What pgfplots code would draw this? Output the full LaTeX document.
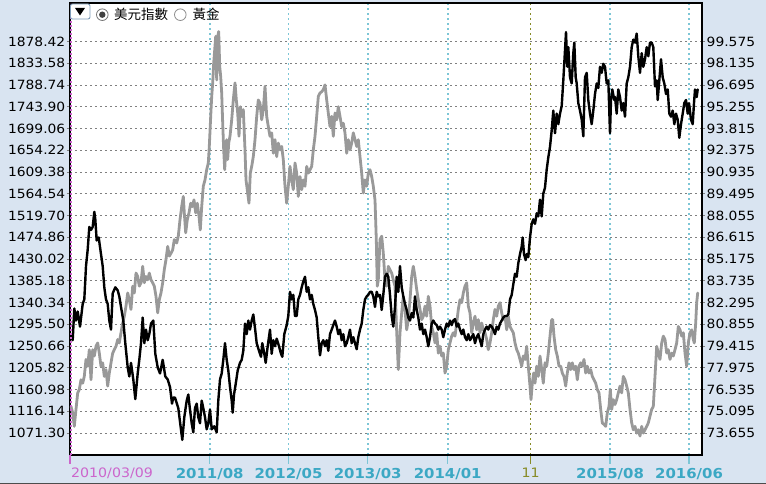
\documentclass[border=0pt]{standalone}
\usepackage{fontspec}
\setmainfont{DejaVu Sans}
\newfontfamily\tickfont[FakeStretch=1.09]{DejaVu Sans}
\newfontfamily\cjk{Noto Sans CJK TC}
\usepackage{pgfplots}
\pgfplotsset{compat=1.18}
\usepackage{pgfplotstable}

\definecolor{bgc}{RGB}{217,228,241}
\definecolor{goldgray}{RGB}{153,153,153}
\definecolor{gridgray}{RGB}{128,128,128}
\definecolor{cyangrid}{RGB}{125,198,214}
\definecolor{cyanlab}{RGB}{60,168,196}
\definecolor{magline}{RGB}{204,102,204}
\definecolor{oliveline}{RGB}{136,140,40}
\definecolor{btnborder}{RGB}{127,157,185}

% gold (left axis), x = position along the time axis
\pgfplotstableread{
x y
1 1126
2.7 1113
4.3 1085
6 1120
7.7 1154
9.3 1161
11 1181
12.7 1174
14.3 1188
16 1223
17.7 1209
19.3 1243
21 1181
22.7 1243
24.3 1230
26 1250
27.7 1257
29.3 1236
31 1209
32.7 1216
34.3 1188
36 1202
37.7 1168
39.3 1195
41 1216
42.7 1236
44.3 1243
46 1250
47.7 1264
49.3 1257
51 1278
52.7 1298
54.3 1312
56 1333
57.7 1360
59.3 1346
61 1326
62.7 1374
64.3 1360
66 1401
67.7 1394
69.3 1374
71 1381
72.7 1415
74.3 1381
76 1394
77.7 1387
79.3 1401
81 1387
82.7 1381
84.3 1374
86 1353
87.7 1319
89.3 1346
91 1360
92.7 1381
94.3 1408
96 1429
97.7 1456
99.3 1436
101 1442
102.7 1449
104.3 1470
106.7 1463
108.3 1477
110 1511
111.7 1538
113.3 1559
114.3 1525
115.7 1484
117.3 1511
119 1525
120.7 1545
122.3 1538
124 1552
125.7 1525
127.3 1545
129 1518
130.3 1490
131.7 1538
133.3 1580
135 1593
136.7 1614
138.3 1628
139.3 1662
140.7 1724
141.7 1765
142.7 1793
143.7 1834
144.7 1861
145.7 1889
146.7 1799
147.7 1889
148.7 1899
149.7 1827
150.7 1806
151.7 1772
152.7 1710
153.7 1655
154.7 1614
155.7 1655
156.7 1676
157.7 1635
158.7 1669
160 1683
161.7 1717
163.3 1758
165 1793
166.3 1758
167.7 1731
169 1683
170.3 1744
171.7 1724
173.3 1738
175 1655
176 1593
177.7 1566
179 1545
180.3 1607
181.7 1621
183.3 1641
185 1676
186.7 1724
188.3 1758
190 1751
191.7 1717
193.3 1738
195 1786
196.7 1724
198.3 1703
200 1683
201.7 1690
203.3 1648
205 1676
206.7 1641
208.3 1669
210 1655
211.7 1662
213.3 1635
215 1580
216.7 1545
218.3 1580
220 1621
221.7 1593
223.3 1573
225 1628
226.7 1607
228.3 1559
230 1600
231.7 1573
233.3 1593
235 1580
236.7 1621
238.3 1607
240 1614
241.7 1621
243.3 1655
245 1683
246.7 1724
248.3 1765
250 1772
251.7 1775
253.3 1779
255 1789
256.7 1758
258.3 1731
260 1703
261.7 1724
263.3 1683
265 1731
266.7 1717
268.3 1744
270 1724
271.7 1703
273.3 1710
275 1690
276.7 1648
278.3 1676
280 1655
281.7 1669
283.3 1690
285 1676
286.7 1662
288.3 1676
290 1641
291.7 1607
293.3 1566
295 1593
296.7 1580
298.3 1607
300 1614
301.7 1600
303.3 1580
305 1552
306.3 1470
307.3 1374
308.3 1387
310 1470
311.7 1477
313.3 1442
315 1387
316.7 1374
318.3 1415
320 1408
321.7 1401
323.3 1387
325 1374
326.7 1280
328.3 1202
330 1278
331.7 1319
333.3 1353
335 1326
336.7 1284
338.3 1305
340 1346
341.7 1394
343.3 1415
345 1394
346.7 1367
348.3 1346
350 1326
351.7 1305
353.3 1312
355 1333
356.7 1312
358.3 1353
360 1333
361.7 1291
363.3 1278
365 1257
366.7 1278
368.3 1236
370 1250
371.7 1230
373.3 1236
375 1195
376.7 1209
378.3 1243
380 1257
381.7 1271
383.3 1278
385 1271
386.7 1298
388.3 1326
390 1346
391.7 1340
393.3 1360
395 1374
396.7 1381
398.3 1333
400 1319
401.7 1278
403.3 1298
405 1312
406.7 1284
408.3 1305
410 1278
411.7 1298
413.3 1284
415 1278
416.7 1264
418.3 1243
420 1257
421.7 1278
423.3 1305
425 1326
426.7 1312
428.3 1333
430 1340
431.7 1319
433.3 1305
435 1312
436.7 1284
438.3 1312
440 1291
441.7 1284
443.3 1278
445 1257
446.7 1243
448.3 1236
450 1223
451.7 1209
453.3 1230
455 1223
456.7 1250
458.3 1209
460 1168
461 1140
462.3 1174
463.7 1195
465 1174
466.7 1209
468.3 1188
470 1230
471.7 1202
473.3 1174
475 1216
476.7 1209
478.3 1236
480 1271
481.7 1305
482.7 1305
484 1271
485.7 1243
487.3 1230
489 1209
490.7 1209
492.3 1195
494 1188
495.7 1168
497.3 1195
499 1216
500.7 1202
502.3 1216
504 1202
505.7 1209
507.3 1181
509 1209
510.7 1216
512.3 1209
514 1223
515.7 1195
517.3 1209
519 1195
520.7 1202
522.3 1188
524 1181
525.7 1174
527.3 1161
529 1154
530.7 1120
532.3 1092
534 1089
535.7 1085
537.3 1113
539 1126
540.3 1161
541.7 1120
543.3 1140
545 1130
546.7 1140
548.3 1154
550 1168
551.7 1154
553.3 1188
555 1181
556.7 1168
558.3 1154
560 1120
561.7 1092
563.3 1078
565 1085
566.7 1071
568.3 1078
570 1065
571.7 1085
573.3 1071
575 1078
576.7 1085
578.3 1092
580 1106
581.7 1120
583.3 1126
585 1188
586.7 1250
588.3 1236
590 1223
591.7 1257
593.3 1271
595 1264
596.7 1236
598.3 1243
600 1223
601.7 1236
603.3 1230
605 1243
606.7 1257
608.3 1291
610 1284
611.7 1271
613.3 1278
615 1236
616.7 1209
618.3 1257
620 1278
621.7 1284
623.3 1264
624.3 1257
625.7 1298
626.7 1340
627.7 1360
}\goldtable

% US dollar index (right axis)
\pgfplotstableread{
x y
0 80.2
2.7 79.8
4.3 81.9
6 81.1
7.7 81.7
10 80.7
12.7 82.2
14.3 82.5
16 84.7
17.7 85.8
19.3 87.3
21 87.1
22.7 87.3
24.3 88.3
25.3 87.8
26.7 86.4
28.7 86.6
31 85.5
32.7 84.7
34.3 83.3
36 82.5
37.7 82.2
39.3 81.1
41 80.5
42.7 82.9
45.3 83.3
47.7 83.1
49.3 82.7
51 82.0
53.3 81.1
55.3 79.6
57.7 78.0
59.3 77.4
61 78.3
63.3 77.2
65.3 75.9
67.7 77.6
69.3 78.5
71 79.6
72.7 81.3
74.3 79.6
76 80.5
77.7 79.8
79.3 80.2
81 80.9
83.3 81.1
85.3 78.9
87.7 78.0
90 77.6
92.7 78.5
95.3 77.4
97.7 77.2
100 76.7
102 75.6
103.3 76.0
105 76.0
108.3 75.3
110 74.4
112.3 73.2
114.3 74.7
116.7 75.8
118.3 76.2
120 75.2
121.7 74.3
123.3 73.7
125 75.3
126.7 75.6
128.3 74.7
130 74.3
131.7 75.8
133.3 75.3
135 74.7
136.7 73.9
138.3 74.3
140 75.2
141.7 73.9
144.3 74.1
146.7 73.7
148.3 75.8
150 77.2
151.7 77.6
153.3 78.5
155 79.6
156.7 78.5
158.3 77.8
160 76.7
161.7 75.8
162.7 75.0
164 76.2
165.7 76.9
167.7 77.8
170 78.3
171.7 78.5
173.3 79.1
175 80.9
176.7 80.2
178.3 81.1
180 80.5
181.7 81.1
183.3 81.5
185 80.6
186.7 79.6
189 79.1
191 78.7
192.3 79.6
194.3 78.9
195.7 78.3
197.7 79.4
200 80.5
201.7 78.9
203.3 79.8
205 79.4
206.7 79.9
209 79.4
211 78.9
212.3 78.7
214.3 80.2
216.7 80.8
218.3 81.4
220 83.0
221.7 82.5
223.3 82.8
225 81.4
226.7 81.4
228.3 82.5
230 82.8
231.7 83.3
233.3 83.7
235 84.0
236.7 83.0
238.3 83.3
240 82.5
241.7 82.8
243.3 82.2
245 81.8
246.7 81.3
248.3 80.0
250 78.8
251.7 79.6
253.3 79.8
255 79.4
256.7 79.8
258.3 79.1
260 80.2
261.7 80.5
263.3 80.8
265 81.1
266.7 80.7
268.3 80.2
270 80.5
271.7 79.8
273.3 80.2
275 79.4
276.7 79.6
278.3 80.0
280 80.5
281.7 79.6
283.3 80.0
285 79.6
286.7 79.2
288.3 80.0
290 80.5
291.7 80.9
293.3 81.8
295 82.5
296.7 82.7
298.3 82.8
300 83.0
301.7 83.0
303.3 82.7
305 82.0
306.7 83.0
308.3 82.7
310 82.8
311.7 81.8
313.3 82.8
315 84.0
316.7 84.2
318.3 84.0
320 82.8
321.7 81.4
323.3 80.7
325 82.0
326.7 84.0
328.3 83.0
330 84.7
331.7 83.3
333.3 82.7
335 82.2
336.7 81.8
338.3 81.3
340 81.1
341.7 81.6
343.3 81.3
345 82.7
346.7 81.8
348.3 81.3
350 80.5
351.7 80.9
353.3 80.2
355 80.5
356.7 80.0
358.3 79.4
360 80.0
361.7 80.9
363.3 81.1
365 80.9
366.7 80.8
368.3 80.5
370 80.7
371.7 80.5
373.3 80.0
375 80.5
376.7 80.9
378.3 80.7
380 81.1
381.7 80.8
383.3 81.1
385 81.2
386.7 80.7
388.3 80.9
390 80.5
391.7 80.2
393.3 80.5
395 80.0
396.7 79.8
398.3 80.2
400 79.8
401.7 80.0
403.3 80.2
405 79.6
406.7 80.0
408.3 80.2
410 79.8
411.7 79.4
413.3 80.2
415 80.5
416.7 80.7
418.3 80.5
420 80.8
421.7 80.7
423.3 80.5
425 80.2
426.7 80.7
428.3 80.5
430 80.9
431.7 81.1
433.3 81.3
435 81.4
436.7 81.4
438.3 81.5
440 82.5
441.7 82.8
443.3 83.5
445 84.2
446.7 84.0
448.3 84.9
450 85.5
451.7 86.0
452.7 86.6
454 85.5
455.7 85.1
456.7 85.5
458.3 85.3
460 86.6
461.7 87.5
463.3 87.8
465 87.5
466.7 88.2
468.3 88.0
470 89.1
471.7 88.0
473.3 89.5
475 89.9
476.7 91.1
478.3 91.9
480 92.6
481.7 93.7
483.3 95.0
485 93.5
486.7 94.8
488.3 94.1
490 94.8
491.7 95.3
493.3 97.0
495 99.0
496 100.2
497.3 97.9
498.3 99.2
500 97.2
501.7 96.8
503.3 98.8
504.3 99.5
505.7 97.2
506.7 96.8
508.3 95.5
510 95.0
511.7 94.4
513.3 93.3
515 97.2
516.7 97.5
518.3 95.7
520 94.8
521.7 94.1
523.3 95.0
525 96.1
526.7 96.8
528.3 96.5
530 97.9
531.7 97.5
533.3 98.1
535 97.9
536.7 96.8
538.3 97.0
540 93.5
541 95.7
542.3 96.4
544.3 95.7
545 95.9
546.7 94.8
548.3 96.4
550 95.9
551.7 95.0
553.3 95.5
555 94.6
556.7 96.8
558.3 97.2
560 97.9
561.7 99.2
563.3 99.7
565 99.5
566.7 100.1
568.3 98.6
570 97.5
571.7 98.8
573.3 97.9
575 98.4
576.7 99.2
578.3 98.6
580 99.5
581.7 99.5
583.3 99.2
585 96.6
586.7 97.0
587.7 95.7
589.3 97.0
591 98.4
592.7 97.2
594.3 96.8
596 96.1
597.7 96.4
599.3 94.8
601 94.6
602.7 95.0
604.3 94.1
606 94.8
607.7 94.4
609.3 93.2
611 94.1
612.7 94.8
614.3 95.5
616 95.7
617.7 94.8
619 95.5
621 94.4
622.7 94.1
624 95.5
625 96.4
626.7 95.9
627.7 96.4
}\dollartable

\pgfplotsset{
  base/.style={scale only axis, width=632pt, height=452pt,
    xmin=0, xmax=632, at={(0,0)}, anchor=south west},
  xgrid/.style={base, ymin=0, ymax=1, axis y line=none,
    axis x line*=bottom, x axis line style={draw=none},
    ytick=\empty, xmajorgrids, tick align=outside, major tick length=9pt,
    xticklabel style={anchor=north, inner sep=0pt, yshift=-4pt}},
  yside/.style={base, xtick=\empty, tick align=outside,
    major tick length=3pt, ytick style={gridgray, line width=0.8pt},
    yticklabel style={font=\tickfont\fontsize{12.7}{14}\selectfont,
      text=black, inner sep=1.5pt}},
}

\begin{document}
\begin{tikzpicture}
\fill[bgc] (-70pt,-29pt) rectangle (696pt,455pt);
\useasboundingbox (-70pt,-29pt) rectangle (696pt,455pt);
\draw[black!70, line width=1pt] (-70pt,-28.5pt) -- (696pt,-28.5pt);
\fill[white] (0,0) rectangle (632pt,452pt);

% vertical date grid lines (cyan)
\begin{axis}[xgrid,
  xtick={139.7,218.5,297.7,377.7,540,619},
  xticklabels={2011/08,2012/05,2013/03,2014/01,2015/08,2016/06},
  grid style={cyangrid, line width=1.6pt, dash pattern=on 1.6pt off 3.4pt},
  xtick style={cyangrid, line width=1.3pt},
  xticklabel style={font=\tickfont\fontsize{13.7}{15}\selectfont\bfseries, text=cyanlab}]
\end{axis}
% olive "11" line
\begin{axis}[xgrid,
  xtick={460.7}, xticklabels={11},
  grid style={oliveline, line width=1.4pt, dash pattern=on 1.6pt off 3.4pt},
  xtick style={oliveline, line width=1.3pt},
  xticklabel style={font=\tickfont\fontsize{13}{15}\selectfont, text=oliveline}]
\end{axis}

% gold, left axis
\begin{axis}[yside,
  ymin=1025.95, ymax=1957.79,
  ytick pos=left,
  ytick={1071.30,1116.14,1160.98,1205.82,1250.66,1295.50,1340.34,1385.18,1430.02,1474.86,1519.70,1564.54,1609.38,1654.22,1699.06,1743.90,1788.74,1833.58,1878.42},
  yticklabels={1071.30,1116.14,1160.98,1205.82,1250.66,1295.50,1340.34,1385.18,1430.02,1474.86,1519.70,1564.54,1609.38,1654.22,1699.06,1743.90,1788.74,1833.58,1878.42},
  ymajorgrids,
  grid style={gridgray, line width=0.9pt, dash pattern=on 2pt off 3pt},
  axis line style={black, line width=1.3pt}]
\addplot[goldgray, line width=2.8pt, line join=round, line cap=round]
  table[x=x, y=y] {\goldtable};
\end{axis}

% US dollar index, right axis
\begin{axis}[yside,
  ymin=72.199, ymax=102.124,
  axis x line=none, axis y line*=right,
  ytick={73.655,75.095,76.535,77.975,79.415,80.855,82.295,83.735,85.175,86.615,88.055,89.495,90.935,92.375,93.815,95.255,96.695,98.135,99.575},
  yticklabels={73.655,75.095,76.535,77.975,79.415,80.855,82.295,83.735,85.175,86.615,88.055,89.495,90.935,92.375,93.815,95.255,96.695,98.135,99.575},
  axis line style={black, line width=1.3pt}]
\addplot[black, line width=2.4pt, line join=round, line cap=round]
  table[x=x, y=y] {\dollartable};
\end{axis}

% start date line (magenta)
\begin{axis}[xgrid,
  xtick={0}, xticklabels={2010/03/09},
  grid style={magline, line width=1.3pt, dash pattern=on 1.6pt off 2.4pt, xshift=0.9pt},
  xtick style={magline, line width=1.2pt},
  xticklabel style={font=\tickfont\fontsize{13}{15}\selectfont, text=magline, anchor=north west, xshift=1pt}]
\end{axis}

% selector box and legend
\draw[btnborder, fill=white, rounded corners=2pt, line width=0.9pt] (0.5pt,451pt) rectangle (20pt,436pt);
\fill[black] (5pt,447pt) -- (15pt,447pt) -- (10pt,439.5pt) -- cycle;
\draw[black!55, fill=white, line width=0.8pt] (32.3pt,440.3pt) circle (5.8pt);
\fill[black!75] (32.3pt,440.3pt) circle (3.2pt);
\node[anchor=west, inner sep=0pt] at (44pt,440.3pt) {\cjk\fontsize{13.5}{15}\selectfont 美元指數};
\draw[black!45, fill=white, line width=0.8pt] (110.3pt,440.3pt) circle (5.8pt);
\node[anchor=west, inner sep=0pt] at (122.5pt,440.3pt) {\cjk\fontsize{13.5}{15}\selectfont 黃金};
\end{tikzpicture}
\end{document}
